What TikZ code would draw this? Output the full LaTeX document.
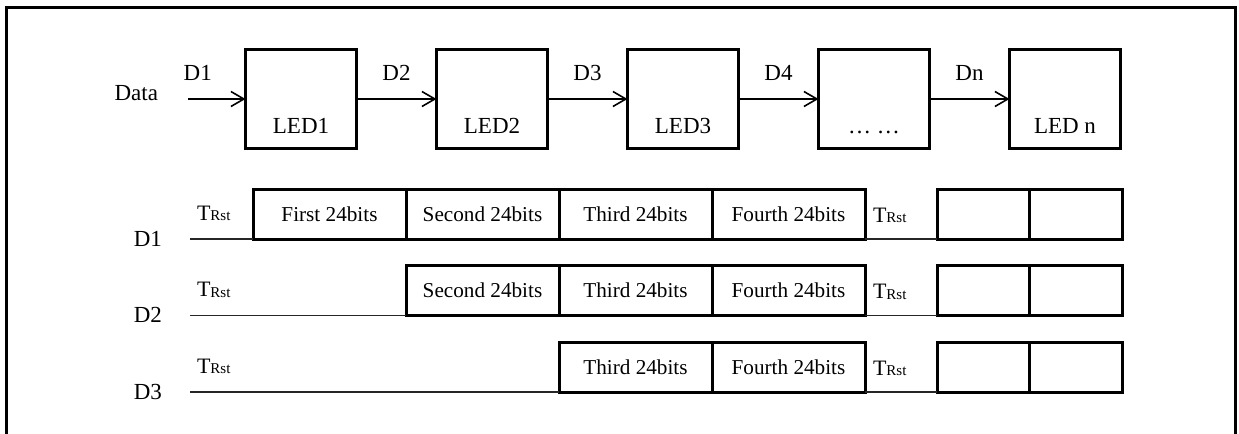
\documentclass[tikz,border=0pt]{standalone}
\usepackage{fontspec}
\setmainfont{Liberation Serif}
\usetikzlibrary{positioning,arrows.meta}
\newcommand{\trst}{{\fontsize{11}{13}\selectfont T}\raisebox{-0.4pt}{\fontsize{7.5}{9}\selectfont Rst}}

\begin{document}
\begin{tikzpicture}[x=0.5pt, y=-0.5pt, node distance=40pt,
  every node/.style={font=\fontsize{11.5}{13}\selectfont, inner sep=0pt, outer sep=0pt},
  ledbox/.style={draw, line width=1.6pt, minimum width=55.5pt, minimum height=49.5pt},
  cell/.style={draw, line width=1.5pt, minimum width=76.5pt, minimum height=25pt, font=\fontsize{10.6}{12}\selectfont},
  blank/.style={cell, minimum width=46.25pt},
  wire/.style={line width=0.8pt, black!85},
  >={Straight Barb[length=6.5pt, width=7.5pt]}]
\useasboundingbox (0,0) rectangle (1239,434);
\draw[line width=1.5pt] (6,450) -- (6,7) -- (1235,7) -- (1235,450);

\node[ledbox] (led1) at (301,99) {};
\node[ledbox, right=of led1] (led2) {};
\node[ledbox, right=of led2] (led3) {};
\node[ledbox, right=of led3] (ledx) {};
\node[ledbox, right=of ledx] (ledn) {};
\foreach \n/\t in {led1/LED1, led2/LED2, led3/LED3, ledx/{\dots\ \dots}, ledn/LED n}
  \node[anchor=base] (\n-tag) at ([yshift=7.3pt]\n.south) {\t};
\coordinate (in) at (188,99);
\node[anchor=base east] (data) at ([xshift=-15pt, yshift=-0.5pt]in) {Data};
\foreach \x/\y/\l/\p in {in/led1/D1/.17, led1/led2/D2/.5, led2/led3/D3/.5, led3/ledx/D4/.5, ledx/ledn/Dn/.5}
  \draw[->, line width=0.8pt] (\x) -- node[above=9pt, pos=\p] {\l} (\y);

\node[cell] (a1) at (329.5,214) {First 24bits};
\node[cell, right=0pt of a1] (b1) {Second 24bits};
\node[cell, right=0pt of b1] (c1) {Third 24bits};
\node[cell, right=0pt of c1] (d1) {Fourth 24bits};
\node[blank] (x1) at (983.25,214) {};
\node[blank, right=0pt of x1] (y1) {};

\node[cell] (b2) at (482.5,290.5) {Second 24bits};
\node[cell, right=0pt of b2] (c2) {Third 24bits};
\node[cell, right=0pt of c2] (d2) {Fourth 24bits};
\node[blank] (x2) at (983.25,290.5) {};
\node[blank, right=0pt of x2] (y2) {};

\node[cell] (c3) at (635.5,367) {Third 24bits};
\node[cell, right=0pt of c3] (d3) {Fourth 24bits};
\node[blank] (x3) at (983.25,367) {};
\node[blank, right=0pt of x3] (y3) {};

\coordinate (s1) at (190,239);
\coordinate (s2) at (190,315.5);
\coordinate (s3) at (190,392);
\foreach \r/\f/\l in {1/a1/d1, 2/b2/d2, 3/c3/d3} {
  \draw[wire] (s\r) -- (\f.south west);
  \draw[wire] (\l.south east) -- (x\r.south west);
  \node[anchor=base west] (tl\r) at ([xshift=3.5pt, yshift=9.5pt]s\r) {\trst};
  \node[anchor=base west] (tr\r) at ([xshift=4pt, yshift=8.5pt]\l.south east) {\trst};
  \node[anchor=base east] (row\r) at ([xshift=-14pt, yshift=-3.5pt]s\r) {D\r};
}
\end{tikzpicture}
\end{document}
